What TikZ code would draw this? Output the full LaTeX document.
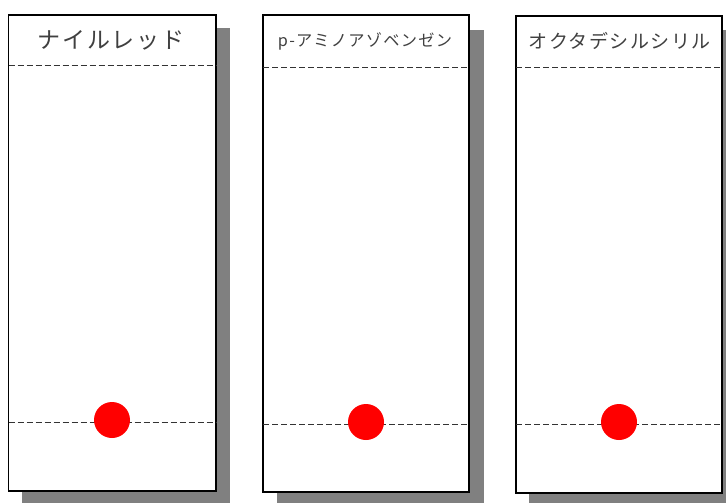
\documentclass[tikz,border=0pt]{standalone}
\usepackage{fontspec}
\newfontfamily\jpfont{Noto Sans CJK JP}[LetterSpace=8]
\begin{document}
\begin{tikzpicture}[x=1pt,y=-1pt,
  shadowbox/.style={draw=none,fill=black!50},
  plate/.style={draw=black,line width=1.5pt,fill=white},
  line/.style={draw=black!80,line width=0.9pt,dash pattern=on 6pt off 3pt},
  spot/.style={circle,fill=red,draw=none,minimum size=36pt,inner sep=0pt},
  title/.style={text=black!75,inner sep=0pt,font=\jpfont}]
\useasboundingbox (0,0) rectangle (726,503);
% panel 1
\fill[shadowbox] (22,28) rectangle (230,503);
\draw[plate] (8.5,15) rectangle (216,491);
\draw[line] (8.5,65) -- (216,65);
\draw[line] (8.5,422) -- (216,422);
\node[spot] (s1) at (112,420) {};
\node[title,font=\jpfont\fontsize{23}{23}\selectfont] (t1) at (111,40) {ナイルレッド};
% panel 2
\fill[shadowbox] (277,30) rectangle (484,503);
\draw[plate] (263,15) rectangle (469,492);
\draw[line] (263,67) -- (469,67);
\draw[line] (263,424) -- (469,424);
\node[spot] (s2) at (366,422) {};
\node[title,font=\jpfont\fontsize{16.2}{16.2}\selectfont] (t2) at (365,41) {p-アミノアゾベンゼン};
% panel 3
\fill[shadowbox] (529,30) rectangle (736,503);
\draw[plate] (516,16) rectangle (722,493);
\draw[line] (516,67) -- (722,67);
\draw[line] (516,424) -- (722,424);
\node[spot] (s3) at (619,422) {};
\node[title,font=\jpfont\fontsize{19}{19}\selectfont] (t3) at (620,41) {オクタデシルシリル};
\end{tikzpicture}
\end{document}
